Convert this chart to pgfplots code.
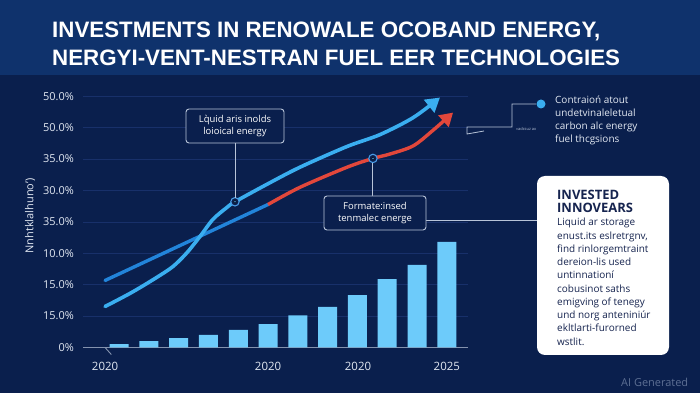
\documentclass[border=0pt]{standalone}
\usepackage{fontspec}
\setmainfont{Open Sans}
\newfontfamily\titlefont{Liberation Sans}
\usepackage{pgfplots}
\pgfplotsset{compat=1.18}
\usetikzlibrary{arrows.meta}
\definecolor{bgc}{HTML}{0A1F4D}
\definecolor{bandc}{HTML}{0F326C}
\definecolor{lineA}{HTML}{3AAEF0}
\definecolor{lineB}{HTML}{2284DA}
\definecolor{redc}{HTML}{E2473B}
\definecolor{barc}{HTML}{6DCBFA}
\definecolor{gridc}{HTML}{18306A}
\definecolor{tickc}{HTML}{E2E8F2}
\definecolor{annc}{HTML}{B8C4D8}
\definecolor{markc}{HTML}{4A9BE6}
\definecolor{navyt}{HTML}{16244F}
\definecolor{aigen}{HTML}{5D6F93}
\begin{document}
\begin{tikzpicture}
\useasboundingbox (0,0) rectangle (700bp,393bp);
\fill[bgc] (0,0) rectangle (700bp,393bp);
\fill[bandc] (0,318bp) rectangle (700bp,393bp);
\begin{axis}[
  at={(83bp,45.5bp)}, anchor=south west,
  scale only axis, width=385bp, height=263.8bp,
  xmin=-0.21, xmax=12.71, ymin=0, ymax=42,
  clip=false,
  axis x line*=bottom, axis y line*=left,
  y axis line style={draw=none},
  x axis line style={draw=annc!70!bgc, line width=0.9bp},
  major tick length=0pt,
  ymajorgrids, grid style={gridc, line width=0.7bp},
  ytick={0,5,10,15,20,25,30,35,40},
  yticklabels={0\%,15.0\%,15.0\%,10.0\%,35.0\%,30.0\%,35.0\%,50.0\%,50.0\%},
  yticklabel style={font=\fontsize{11}{13}\selectfont, text=tickc, anchor=east, inner sep=0pt, xshift=-9bp},
  xtick={0.53,6,9.02,12},
  xticklabels={2020,2020,2020,2025},
  xticklabel style={font=\fontsize{11.5}{13}\selectfont, text=tickc, anchor=north, inner sep=0pt, yshift=-14bp},
]
\addplot[ybar, bar width=19bp, fill=barc, draw=none] coordinates {
 (1,0.53) (2,1.0) (3,1.48) (4,2.0) (5,2.8) (6,3.71)
 (7,5.1) (8,6.47) (9,8.33) (10,10.88) (11,13.15) (12,16.8)};
\draw[annc!70!bgc, line width=0.9bp] (axis cs:0.53,0) -- ++(0,-7bp);
\addplot[lineB, line width=3.4bp, line cap=round] coordinates {(0.53,10.67) (6.0,22.77)};
\addplot[redc, line width=3.4bp, smooth, tension=0.5, -{Triangle[length=13bp,width=15bp]}] coordinates {
 (6.0,22.77) (7.07,25.5) (8.65,28.7) (9.52,30.1) (10.09,30.8) (10.87,32.1) (11.54,34.6) (12.21,37.4)};
\addplot[lineA, line width=3.6bp, line cap=round, smooth, tension=0.5, -{Triangle[length=14bp,width=16bp]}] coordinates {
 (0.53,6.53) (1.4,8.7) (2.21,11.0) (2.81,12.9) (3.28,15.1) (3.72,17.7) (4.15,20.4) (4.62,22.3) (4.89,23.2)
 (5.97,26.0) (7.07,28.7) (8.65,32.0) (9.76,33.9) (10.87,36.6) (11.77,39.8)};
\addplot[only marks, mark=*, mark size=4.2bp, mark options={fill=bgc, draw=markc, line width=1.1bp}] coordinates {(4.89,23.2) (9.52,30.1)};
\addplot[only marks, mark=*, mark size=1.4bp, mark options={fill=markc, draw=none}] coordinates {(4.89,23.2) (9.52,30.1)};
\coordinate (mA) at (axis cs:4.89,23.2);
\coordinate (mR) at (axis cs:9.52,30.1);
\end{axis}
\begin{scope}[x=1bp,y=1bp]
% title
\node[anchor=base west, inner sep=0, text=white, font=\titlefont\bfseries\fontsize{22.4}{26}\selectfont] at (52,356) {INVESTMENTS IN RENOWALE OCOBAND ENERGY,};
\node[anchor=base west, inner sep=0, text=white, font=\titlefont\bfseries\fontsize{22.4}{26}\selectfont] at (52,328) {NERGYI-VENT-NESTRAN FUEL EER TECHNOLOGIES};
% y label
\node[rotate=90, text=tickc, font=\fontsize{11}{13}\selectfont] at (30,177) {Nnhtklalhuno')};
% box 1
\coordinate (b1) at (234,250);
\draw[annc, line width=0.9bp] (mA |- b1) -- ([yshift=4.2bp]mA);
\draw[annc, line width=0.9bp, rounded corners=3bp, fill=bgc] (186,250) rectangle (284,284);
\node[align=center, text=white, font=\fontsize{9.5}{12.5}\selectfont, inner sep=0] at (235,267) {L\`quid aris inolds\\loioical energy};
% box 2
\coordinate (b2) at (373,197);
\draw[annc, line width=0.9bp] (mR |- b2) -- ([yshift=-4.2bp]mR);
\draw[annc, line width=0.9bp] (426,173) -- (537,173);
\draw[annc, line width=0.9bp, rounded corners=3bp, fill=bgc] (324,163) rectangle (426,197);
\node[align=center, text=white, font=\fontsize{9.5}{12.5}\selectfont, inner sep=0] at (375,180) {Formate:insed\\tenmalec energe};
% right-top connector
\draw[annc, line width=0.8bp] (536,289) -- (512,289) -- (512,266) -- (467,266) -- (467,259) -- (484,262);
\fill[lineA] (541,289) circle (4.5);
\node[anchor=west, text=annc, font=\fontsize{4}{5}\selectfont, inner sep=0] at (516,264) {\guillemotleft adcsuz ax};
\node[anchor=north west, align=left, text=tickc, font=\fontsize{10}{13}\selectfont, inner sep=0] at (555,297) {Contraio\'n atout\\undetvinaleletual\\carbon alc energy\\fuel thcgsions};
% white box
\fill[white, rounded corners=8bp] (537,38) rectangle (669,217);
\node[anchor=base west, inner sep=0, text=navyt, font=\bfseries\fontsize{13}{14}\selectfont] at (557,194) {INVESTED};
\node[anchor=base west, inner sep=0, text=navyt, font=\bfseries\fontsize{13}{14}\selectfont] at (557,181) {INNOVEARS};
\node[anchor=north west, align=left, inner sep=0, text=navyt, font=\fontsize{10}{13.3}\selectfont] at (557,175) {Liquid ar storage\\enust.its eslretrgnv,\\find rinlorgemtraint\\dereion-lis used\\untinnation\'i\\cobusinot saths\\emigving of tenegy\\und norg anteniniúr\\ekltlarti-furorned\\wstlit.};
% watermark
\node[anchor=base west, inner sep=0, text=aigen, font=\fontsize{11}{13}\selectfont] at (621,7) {AI Generated};
\end{scope}
\end{tikzpicture}
\end{document}
